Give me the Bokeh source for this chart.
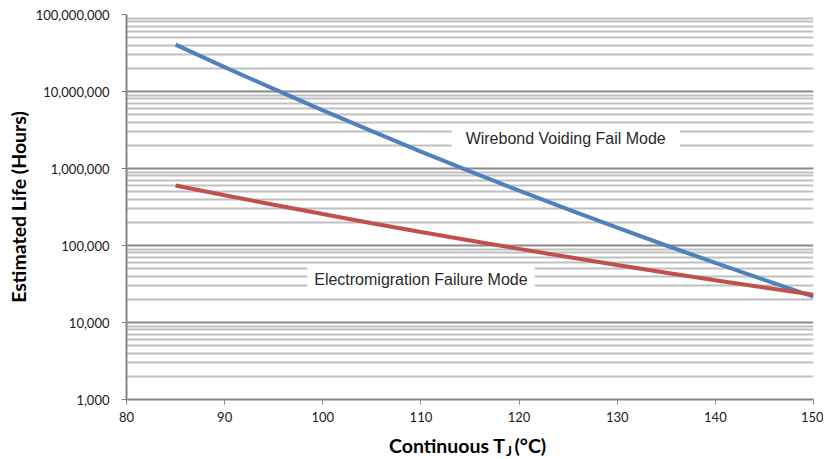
from bokeh.plotting import figure
from bokeh.layouts import column
from bokeh.models import Range1d, FixedTicker, Label, ColumnDataSource
from bokeh.core.properties import value
from bokeh.embed import file_html
from bokeh.resources import INLINE

# Data
temps_c = [85, 90, 95, 100, 105, 110, 115, 120, 125, 130, 135, 140, 145, 150]
wirebond_life = [4.07e7, 2.07e7, 1.08e7, 5.68e6, 3.05e6, 1.66e6, 9.18e5,
                 5.16e5, 2.95e5, 1.71e5, 1.00e5, 5.94e4, 3.57e4, 2.17e4]
electromig_life = [6.03e5, 4.50e5, 3.38e5, 2.56e5, 1.95e5, 1.50e5, 1.16e5,
                   9.04e4, 7.09e4, 5.59e4, 4.43e4, 3.54e4, 2.84e4, 2.29e4]

x_ticks = [80, 90, 100, 110, 120, 130, 140, 150]
y_ticks = [1e3, 1e4, 1e5, 1e6, 1e7, 1e8]
y_tick_labels = ["1,000", "10,000", "100,000", "1,000,000", "10,000,000", "100,000,000"]
y_minor_ticks = [m * 10 ** e for e in range(3, 8) for m in range(2, 10)]

label_wirebond = "Wirebond Voiding Fail Mode"
label_electro = "Electromigration Failure Mode"
y_title = "Estimated Life (Hours)"
x_title_main = "Continuous T"
x_title_sub = "J"
x_title_unit = "(°C)"

TICK_FONT = "Lato"
TITLE_FONT = "Lato"

LEFT, RIGHT, TOP, BOTTOM = 126, 10, 14, 31
FW, FH = 687, 385

p = figure(
    output_backend="svg", toolbar_location=None,
    frame_width=FW, frame_height=FH,
    min_border_left=LEFT, min_border_right=RIGHT, min_border_top=TOP, min_border_bottom=BOTTOM,
    x_range=Range1d(80, 150), y_range=Range1d(1e3, 1e8),
    y_axis_type="log",
)
p.outline_line_color = None
p.background_fill_color = "white"

src = ColumnDataSource(dict(t=temps_c, wb=wirebond_life, em=electromig_life))
p.line("t", "wb", source=src, line_color="#4f81bd", line_width=4)
p.line("t", "em", source=src, line_color="#c0504d", line_width=4)

# x axis
xa = p.xaxis[0]
xa.ticker = FixedTicker(ticks=x_ticks)
xa.axis_line_color = "#868686"
xa.axis_line_width = 2
xa.major_tick_line_color = "#868686"
xa.major_tick_line_width = 1
xa.major_tick_out = 5
xa.major_tick_in = 0
xa.minor_tick_line_color = None
xa.major_label_standoff = 7
xa.major_label_text_font = TICK_FONT
xa.major_label_text_font_size = "13px"
xa.major_label_text_color = "#1a1a1a"
xa.axis_label = None

# y axis
ya = p.yaxis[0]
ya.ticker = FixedTicker(ticks=y_ticks, minor_ticks=y_minor_ticks)
ya.major_label_overrides = {t: s for t, s in zip(y_ticks, y_tick_labels)}
ya.axis_line_color = "#868686"
ya.axis_line_width = 2
ya.major_tick_line_color = "#868686"
ya.major_tick_out = 5
ya.major_tick_in = 0
ya.minor_tick_line_color = None
ya.major_label_standoff = 12
ya.major_label_text_font = TICK_FONT
ya.major_label_text_font_size = "13px"
ya.major_label_text_color = "#1a1a1a"
ya.axis_label = y_title
ya.axis_label_text_font = TITLE_FONT
ya.axis_label_text_font_style = "bold"
ya.axis_label_text_font_size = "19.5px"
ya.axis_label_text_color = "#000000"
ya.axis_label_standoff = 3

p.xgrid.grid_line_color = None
p.ygrid.grid_line_color = "#8a8a8a"
p.ygrid.grid_line_width = 2
p.ygrid.minor_grid_line_color = "#c0c0c0"
p.ygrid.minor_grid_line_width = 2

# curve labels with white boxes
for txt, xv, yv, pad in [(label_wirebond, 124.75, 2.44e6, (14, 5)),
                         (label_electro, 110.0, 3.58e4, (7, 5))]:
    p.add_layout(Label(x=xv, y=yv, text=txt, text_align="center", text_baseline="middle",
                       text_font="Liberation Sans", text_font_size="16px",
                       text_color="#2a2a2a", background_fill_color="white",
                       padding=pad))

# x axis title strip (separate figure so the subscript can be placed freely);
# its frame lines up with the chart frame, coordinates are pixels within it
H2 = 29
t = figure(output_backend="svg", toolbar_location=None,
           frame_width=FW, frame_height=H2,
           min_border_left=LEFT, min_border_right=RIGHT, min_border_top=0, min_border_bottom=0,
           x_range=Range1d(0, FW), y_range=Range1d(0, H2),
           x_axis_location=None, y_axis_location=None)
t.outline_line_color = None
t.xgrid.visible = False
t.ygrid.visible = False
tfont = value(TITLE_FONT)
t.text(x=[379], y=[14], text=[x_title_main], text_align="right",
       text_baseline="middle", text_font=tfont, text_font_style="bold",
       text_font_size="19.5px", text_color="#000000")
t.text(x=[379.5], y=[9.5], text=[x_title_sub], text_align="left",
       text_baseline="middle", text_font=tfont, text_font_style="bold",
       text_font_size="14px", text_color="#000000")
t.text(x=[388], y=[14], text=[x_title_unit], text_align="left",
       text_baseline="middle", text_font=tfont, text_font_style="bold",
       text_font_size="19.5px", text_color="#000000")

layout = column(p, t, spacing=0)
open("out.html", "w").write(file_html(layout, INLINE))
